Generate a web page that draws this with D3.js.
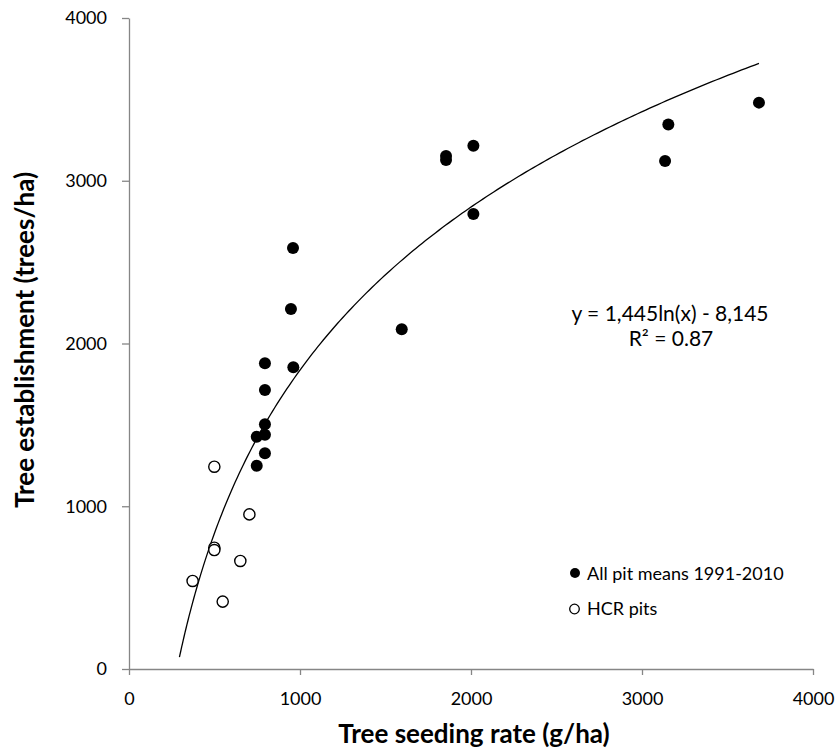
<!DOCTYPE html>
<html><head><meta charset="utf-8">
<script src="https://cdn.jsdelivr.net/npm/d3@7"></script>
<style>body{margin:0;background:#fff}svg{display:block}text{font-family:Lato,"Open Sans",sans-serif}</style>
</head><body><svg id="c" width="835" height="749"></svg>
<script>
const xTicks = [0, 1000, 2000, 3000, 4000];
const yTicks = [0, 1000, 2000, 3000, 4000];
const allPitX = [947, 959, 795, 961, 795, 795, 747, 795, 795, 747, 1595, 1854, 1854, 2014, 2014, 3154, 3135, 3684];
const allPitY = [2212, 2587, 1878, 1854, 1714, 1504, 1427, 1440, 1325, 1249, 2087, 3152, 3128, 3215, 2796, 3346, 3121, 3480];
const hcrX = [499, 704, 499, 499, 651, 372, 548];
const hcrY = [1243, 950, 745, 731, 664, 541, 414];
const trendA = 1445, trendB = -8145, trendFrom = 295, trendTo = 3684;
const eqLines = ["y = 1,445ln(x) - 8,145", "R² = 0.87"];
const legendLabels = ["All pit means 1991-2010", "HCR pits"];

const svg = d3.select("#c");
const x = d3.scaleLinear().domain([0, 4000]).range([129, 813]);
const y = d3.scaleLinear().domain([0, 4000]).range([669, 18]);
const axisCol = "#868686";

const gx = svg.append("g").attr("transform", "translate(0,669)")
  .call(d3.axisBottom(x).tickValues(xTicks).tickSizeInner(6).tickSizeOuter(0).tickPadding(17).tickFormat(d3.format("d")));
const gy = svg.append("g").attr("transform", "translate(129,0)")
  .call(d3.axisLeft(y).tickValues(yTicks).tickSizeInner(7).tickSizeOuter(0).tickPadding(15).tickFormat(d3.format("d")));
[gx, gy].forEach(g => {
  g.selectAll("path,line").attr("stroke", axisCol).attr("stroke-width", 1.3);
  g.selectAll("text").attr("fill", "#000").style("font-size", "18px").style("font-family", "Lato,'Open Sans',sans-serif");
});

// trend line
const pts = d3.range(0, 201).map(i => {
  const v = trendFrom + (trendTo - trendFrom) * Math.pow(i / 200, 1.5);
  return [v, trendA * Math.log(v) + trendB];
});
svg.append("path").datum(pts)
  .attr("d", d3.line().x(d => x(d[0])).y(d => y(d[1])))
  .attr("fill", "none").attr("stroke", "#000").attr("stroke-width", 1.3);

svg.append("g").selectAll("circle").data(hcrX.map((v, i) => [v, hcrY[i]])).join("circle")
  .attr("cx", d => x(d[0])).attr("cy", d => y(d[1])).attr("r", 5.6)
  .attr("fill", "#fff").attr("stroke", "#000").attr("stroke-width", 1.4);
svg.append("g").selectAll("circle").data(allPitX.map((v, i) => [v, allPitY[i]])).join("circle")
  .attr("cx", d => x(d[0])).attr("cy", d => y(d[1])).attr("r", 6)
  .attr("fill", "#000");

// equation
svg.append("text").attr("x", 670).attr("y", 321).attr("text-anchor", "middle")
  .style("font-size", "21px").text(eqLines[0]);
svg.append("text").attr("x", 671).attr("y", 346).attr("text-anchor", "middle")
  .style("font-size", "21px").text(eqLines[1]);

// legend
svg.append("circle").attr("cx", 575).attr("cy", 573).attr("r", 5).attr("fill", "#000");
svg.append("circle").attr("cx", 574.5).attr("cy", 609).attr("r", 4.8).attr("fill", "#fff").attr("stroke", "#000").attr("stroke-width", 1.3);
svg.append("text").attr("x", 587).attr("y", 580).style("font-size", "18px").text(legendLabels[0]);
svg.append("text").attr("x", 587).attr("y", 615).style("font-size", "18px").text(legendLabels[1]);

// axis titles
svg.append("text").attr("x", 474).attr("y", 743).attr("text-anchor", "middle")
  .style("font-size", "26px").style("font-weight", "bold").text("Tree seeding rate (g/ha)");
svg.append("text").attr("transform", "translate(34,340) rotate(-90)").attr("text-anchor", "middle")
  .style("font-size", "26px").style("font-weight", "bold").text("Tree establishment (trees/ha)");
</script></body></html>
